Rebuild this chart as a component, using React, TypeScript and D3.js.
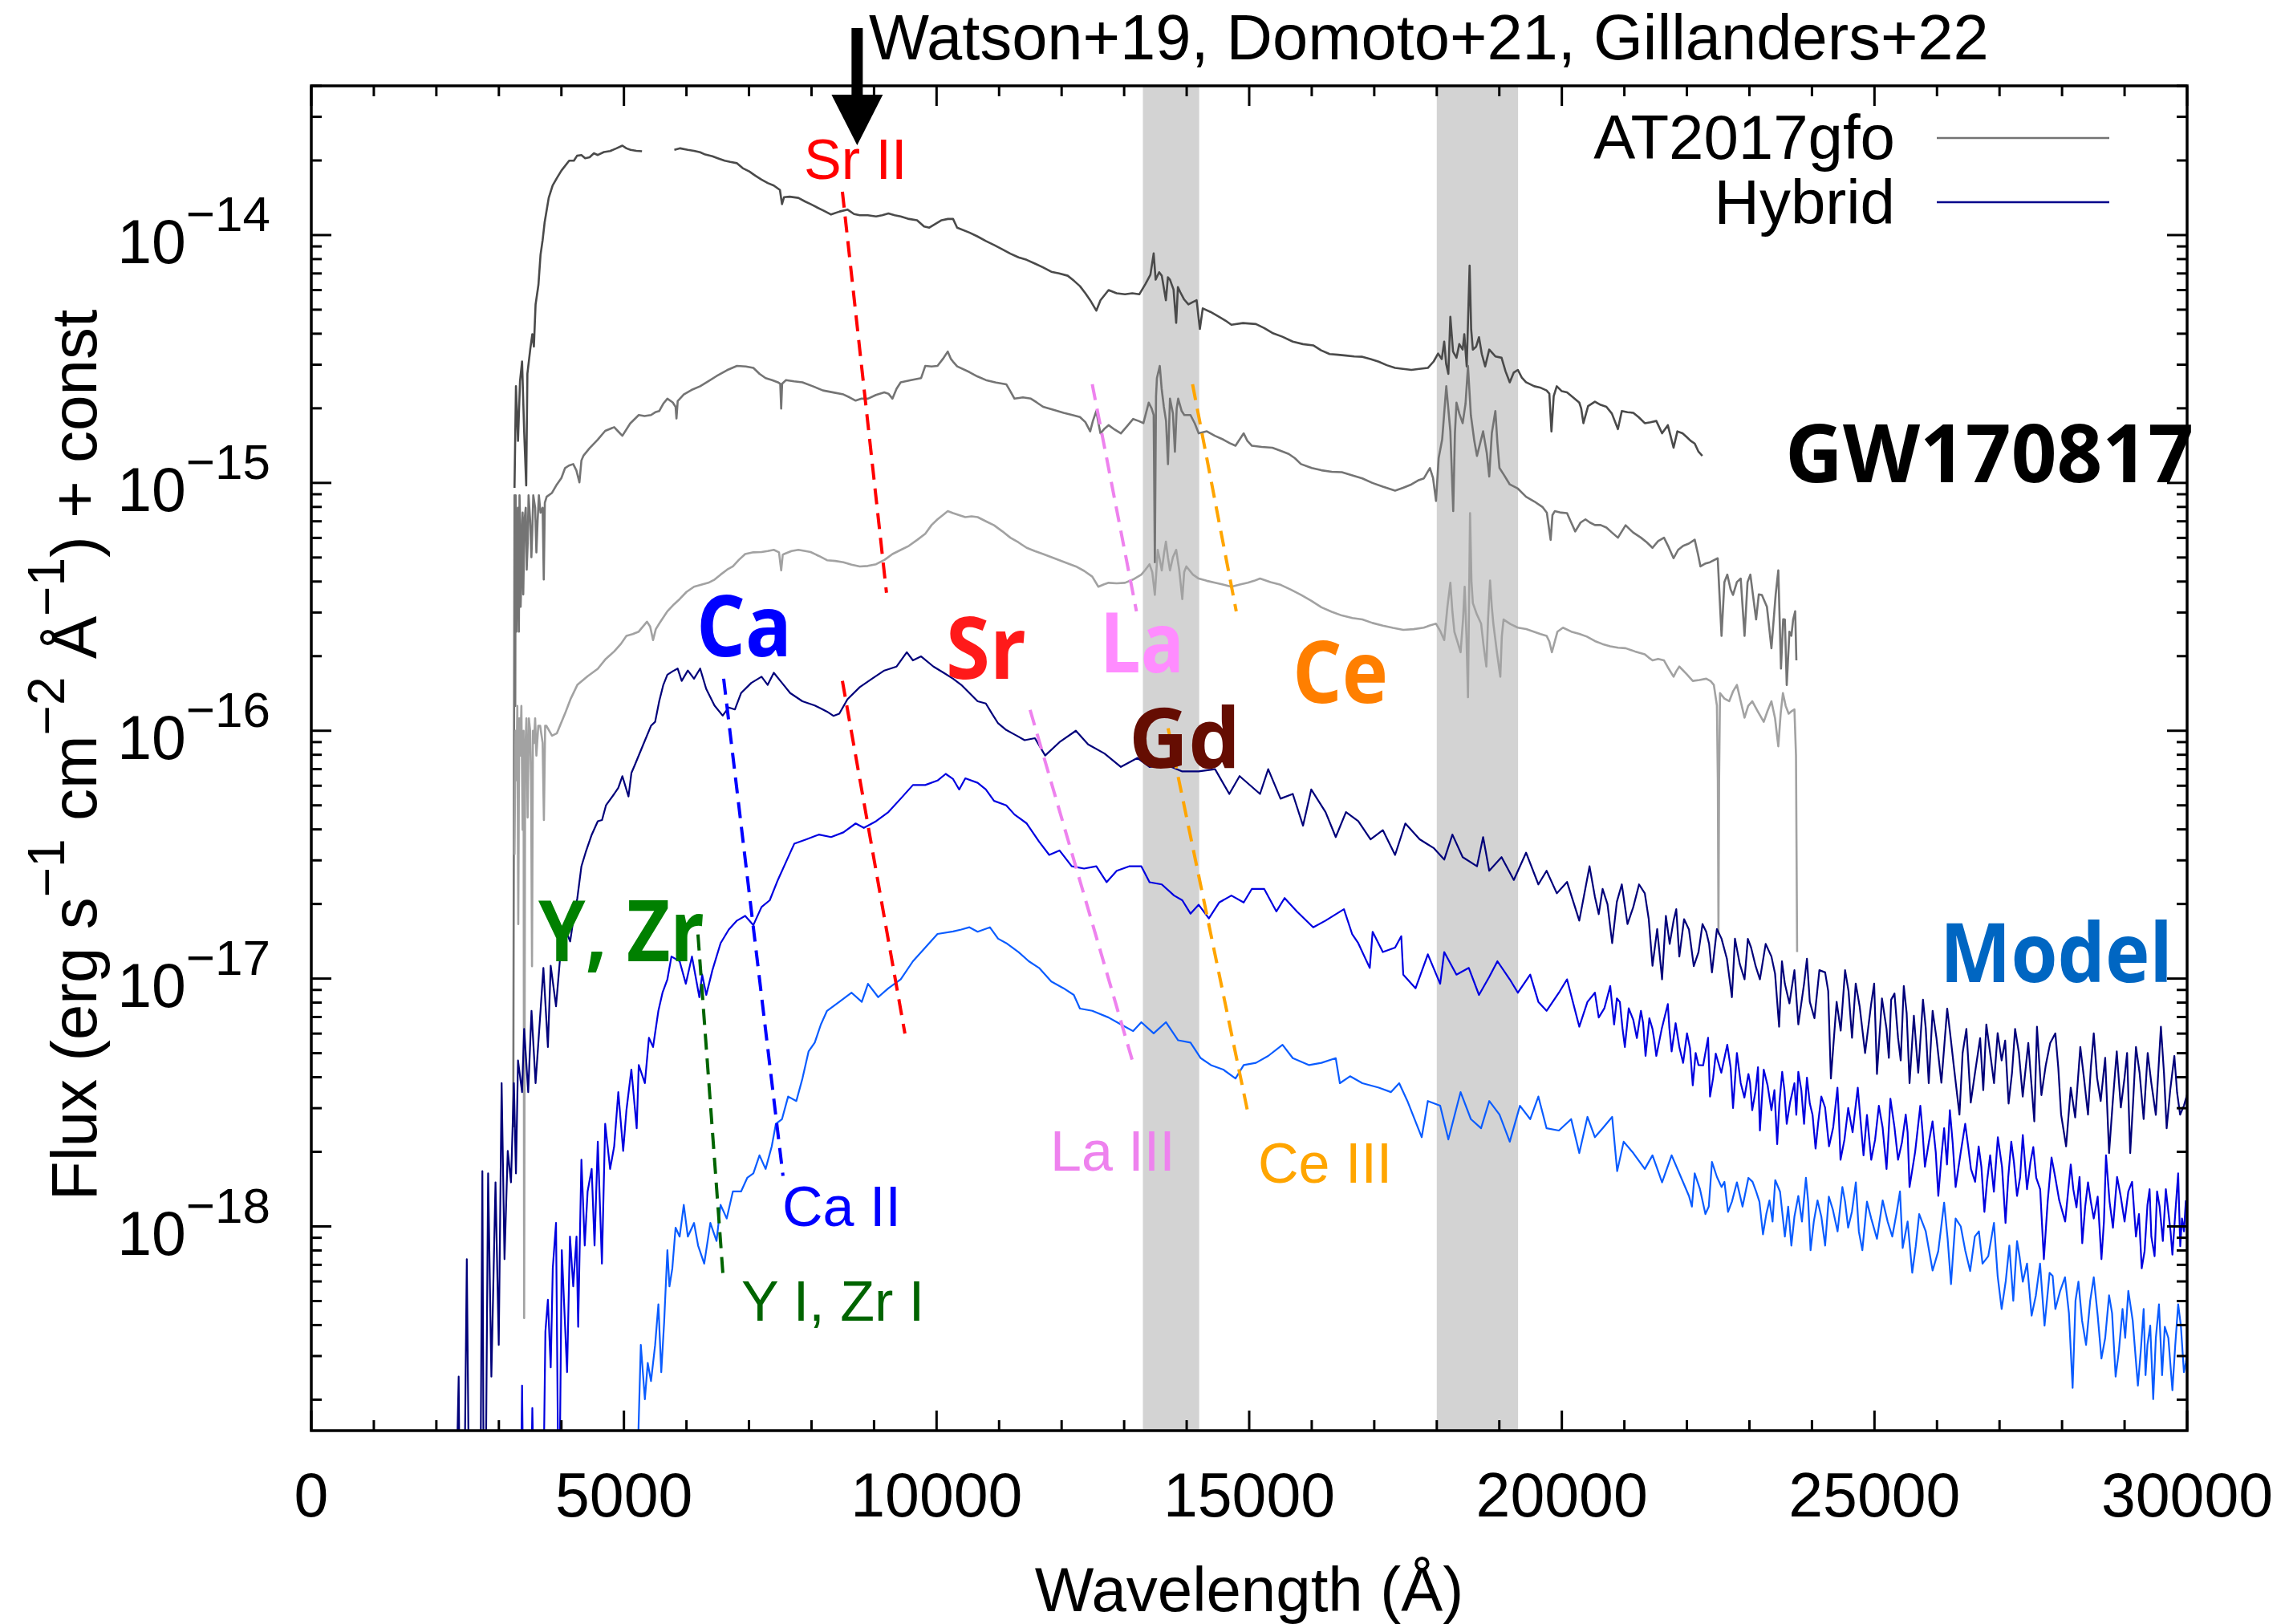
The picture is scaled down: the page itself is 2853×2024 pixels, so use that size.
import React from "react";
import * as d3 from "d3";

// ---------------- data (wavelength in Å, log10 flux) ----------------
const xDomain = [0, 30000];
const yDomain = [1.5e-19, 4e-14];
const xMajorTicks = [0, 5000, 10000, 15000, 20000, 25000, 30000];
const xMinorStep = 1000;
const yDecades = [-14, -15, -16, -17, -18];
const telluricBands = [[13300, 14200], [18000, 19300]];
const arrowWavelength = 8730;

type P = [number, number | null];

const obsEpoch1: P[] = [
[3250,-15.02],[3273,-14.61],[3306,-14.83],[3338,-14.59],[3371,-14.51],[3404,-14.79],[3437,-15.01],[3456,-14.56],[3502,-14.46],[3535,-14.40],[3560,-14.45],[3587,-14.28],[3633,-14.20],[3666,-14.08],[3700,-14.02],[3731,-13.95],[3797,-13.85],[3860,-13.80],[3928,-13.77],[4000,-13.74],[4124,-13.70],[4200,-13.70],[4250,-13.68],[4320,-13.677],[4380,-13.69],[4451,-13.686],[4520,-13.67],[4582,-13.677],[4680,-13.665],[4779,-13.661],[4880,-13.65],[4975,-13.639],[5040,-13.65],[5106,-13.656],[5200,-13.66],[5289,-13.662],
[5550,null],
[5806,-13.656],[5900,-13.65],[6022,-13.656],[6120,-13.66],[6219,-13.666],[6300,-13.675],[6415,-13.682],[6500,-13.69],[6611,-13.70],[6700,-13.705],[6808,-13.71],[6900,-13.73],[7004,-13.743],[7100,-13.76],[7201,-13.776],[7300,-13.79],[7397,-13.80],[7495,-13.818],[7528,-13.875],[7561,-13.847],[7650,-13.845],[7790,-13.85],[7900,-13.865],[7986,-13.875],[8100,-13.89],[8183,-13.90],[8313,-13.917],[8450,-13.905],[8575,-13.897],[8680,-13.915],[8772,-13.92],[8900,-13.92],[9033,-13.925],[9130,-13.92],[9230,-13.913],[9330,-13.92],[9426,-13.925],[9560,-13.935],[9688,-13.94],[9800,-13.965],[9884,-13.97],[9980,-13.955],[10081,-13.94],[10180,-13.935],[10264,-13.935],[10329,-13.97],[10526,-13.99],[10650,-14.005],[10788,-14.024],[10920,-14.04],[11049,-14.057],[11180,-14.075],[11311,-14.09],[11440,-14.10],[11573,-14.115],[11700,-14.13],[11835,-14.148],[11960,-14.155],[12097,-14.164],[12200,-14.185],[12293,-14.206],[12380,-14.235],[12457,-14.263],[12555,-14.305],[12621,-14.263],[12751,-14.222],[12880,-14.235],[13013,-14.239],[13130,-14.235],[13242,-14.239],[13341,-14.197],[13420,-14.16],[13472,-14.074],[13504,-14.18],[13560,-14.15],[13602,-14.164],[13668,-14.263],[13700,-14.17],[13733,-14.18],[13790,-14.22],[13832,-14.354],[13860,-14.21],[13897,-14.23],[13960,-14.26],[14028,-14.28],[14100,-14.27],[14159,-14.263],[14211,-14.379],[14257,-14.296],[14380,-14.31],[14519,-14.33],[14620,-14.345],[14715,-14.362],[14900,-14.355],[15108,-14.359],[15240,-14.375],[15370,-14.395],[15530,-14.41],[15697,-14.43],[15860,-14.44],[16024,-14.445],[16150,-14.465],[16286,-14.48],[16420,-14.483],[16548,-14.486],[16680,-14.49],[16810,-14.491],[16940,-14.50],[17071,-14.511],[17200,-14.525],[17333,-14.536],[17460,-14.54],[17595,-14.544],[17720,-14.54],[17857,-14.536],[17950,-14.51],[18021,-14.478],[18080,-14.50],[18119,-14.43],[18150,-14.52],[18185,-14.56],[18217,-14.33],[18260,-14.47],[18315,-14.495],[18360,-14.44],[18414,-14.462],[18440,-14.40],[18479,-14.53],[18525,-14.123],[18550,-14.38],[18577,-14.462],[18630,-14.45],[18675,-14.412],[18720,-14.48],[18774,-14.53],[18839,-14.462],[18940,-14.49],[19036,-14.495],[19100,-14.55],[19167,-14.594],[19230,-14.555],[19297,-14.544],[19360,-14.575],[19428,-14.594],[19559,-14.61],[19650,-14.615],[19756,-14.627],[19800,-14.64],[19834,-14.792],[19870,-14.65],[19919,-14.61],[20000,-14.63],[20083,-14.635],[20180,-14.655],[20279,-14.676],[20310,-14.70],[20345,-14.759],[20420,-14.69],[20529,-14.672],[20620,-14.685],[20713,-14.693],[20800,-14.72],[20897,-14.783],[20959,-14.71],[21050,-14.715],[21143,-14.717],[21230,-14.735],[21327,-14.759],[21420,-14.755],[21511,-14.75],[21603,-14.80],[21695,-14.767],[21787,-14.858],[21848,-14.792],[21930,-14.80],[22002,-14.816],[22060,-14.83],[22125,-14.841],[22186,-14.874],[22247,-14.891]
];

const obsEpoch2: P[] = [
[3230,-17.6],[3250,-15.05],[3255,-15.3],[3262,-15.9],[3268,-15.05],[3275,-15.2],[3282,-15.6],[3290,-15.45],[3298,-15.25],[3305,-15.1],[3312,-15.35],[3320,-15.6],[3330,-15.05],[3340,-15.15],[3348,-15.5],[3360,-15.38],[3370,-15.2],[3380,-15.12],[3390,-15.45],[3400,-15.3],[3410,-15.15],[3430,-15.1],[3445,-15.35],[3460,-15.25],[3475,-15.05],[3500,-15.15],[3520,-15.3],[3535,-15.19],[3550,-15.05],[3580,-15.1],[3600,-15.28],[3620,-15.15],[3640,-15.05],[3666,-15.12],[3700,-15.1],[3718,-15.39],[3735,-15.08],[3764,-15.056],[3850,-15.04],[3928,-15.006],[4000,-14.98],[4059,-14.94],[4120,-14.93],[4189,-14.924],[4240,-14.95],[4288,-14.998],[4320,-14.91],[4353,-14.89],[4450,-14.86],[4582,-14.825],[4700,-14.79],[4844,-14.775],[4900,-14.79],[4975,-14.81],[5100,-14.76],[5237,-14.726],[5330,-14.73],[5433,-14.726],[5500,-14.715],[5564,-14.71],[5630,-14.68],[5695,-14.66],[5780,-14.675],[5826,-14.693],[5840,-14.74],[5860,-14.67],[5957,-14.643],[6080,-14.625],[6219,-14.61],[6350,-14.59],[6481,-14.569],[6650,-14.545],[6808,-14.528],[6950,-14.53],[7070,-14.536],[7170,-14.56],[7266,-14.577],[7370,-14.585],[7462,-14.594],[7500,-14.6],[7515,-14.70],[7530,-14.6],[7593,-14.585],[7720,-14.59],[7855,-14.594],[8020,-14.61],[8183,-14.627],[8350,-14.635],[8510,-14.643],[8610,-14.655],[8706,-14.668],[8800,-14.66],[8903,-14.66],[9030,-14.645],[9164,-14.635],[9230,-14.64],[9295,-14.66],[9360,-14.62],[9426,-14.594],[9590,-14.585],[9753,-14.577],[9819,-14.528],[9920,-14.53],[10015,-14.528],[10100,-14.5],[10179,-14.47],[10230,-14.5],[10264,-14.511],[10330,-14.53],[10526,-14.553],[10650,-14.57],[10788,-14.585],[10950,-14.595],[11115,-14.602],[11180,-14.63],[11246,-14.66],[11380,-14.655],[11508,-14.66],[11600,-14.675],[11704,-14.693],[11870,-14.705],[12031,-14.717],[12160,-14.725],[12293,-14.734],[12380,-14.755],[12457,-14.792],[12500,-14.75],[12555,-14.71],[12590,-14.76],[12621,-14.80],[12690,-14.78],[12751,-14.767],[12850,-14.785],[12948,-14.80],[13050,-14.77],[13144,-14.742],[13230,-14.75],[13308,-14.759],[13393,-14.676],[13440,-14.70],[13472,-14.726],[13491,-15.32],[13510,-14.65],[13524,-14.577],[13570,-14.528],[13600,-14.62],[13635,-14.693],[13670,-14.75],[13701,-14.924],[13733,-14.66],[13780,-14.72],[13812,-14.874],[13840,-14.70],[13864,-14.66],[13920,-14.71],[13962,-14.726],[14061,-14.726],[14130,-14.76],[14192,-14.80],[14323,-14.792],[14450,-14.81],[14584,-14.825],[14690,-14.84],[14781,-14.85],[14912,-14.80],[14970,-14.83],[15043,-14.85],[15200,-14.855],[15370,-14.858],[15500,-14.87],[15632,-14.883],[15730,-14.90],[15828,-14.924],[16000,-14.94],[16155,-14.949],[16320,-14.955],[16482,-14.957],[16650,-14.97],[16810,-14.982],[16970,-15.0],[17137,-15.015],[17333,-15.031],[17460,-15.02],[17595,-15.006],[17700,-14.99],[17792,-14.982],[17890,-14.94],[17940,-14.98],[17988,-15.073],[18030,-14.9],[18086,-14.825],[18152,-14.61],[18217,-14.792],[18263,-15.114],[18290,-14.8],[18315,-14.676],[18360,-14.72],[18414,-14.759],[18460,-14.68],[18499,-14.528],[18545,-14.726],[18600,-14.83],[18643,-14.891],[18741,-14.792],[18800,-14.88],[18839,-14.974],[18880,-14.80],[18937,-14.71],[18970,-14.84],[19003,-14.94],[19080,-14.97],[19167,-15.006],[19297,-15.023],[19428,-15.056],[19560,-15.075],[19690,-15.097],[19760,-15.12],[19821,-15.23],[19850,-15.13],[19887,-15.114],[19990,-15.12],[20083,-15.122],[20150,-15.16],[20214,-15.196],[20300,-15.16],[20378,-15.147],[20450,-15.16],[20529,-15.17],[20620,-15.17],[20713,-15.18],[20800,-15.2],[20897,-15.221],[21020,-15.171],[21140,-15.2],[21266,-15.221],[21360,-15.24],[21450,-15.262],[21540,-15.235],[21634,-15.221],[21710,-15.26],[21787,-15.304],[21860,-15.27],[21941,-15.254],[22030,-15.245],[22125,-15.229],[22180,-15.29],[22217,-15.337],[22300,-15.325],[22370,-15.32],[22493,-15.304],[22554,-15.617],[22600,-15.40],[22646,-15.37],[22700,-15.43],[22738,-15.452],[22800,-15.40],[22861,-15.386],[22922,-15.617],[22970,-15.40],[23015,-15.37],[23107,-15.551],[23150,-15.45],[23199,-15.452],[23280,-15.5],[23352,-15.667],[23420,-15.45],[23462,-15.353],[23505,-15.749],[23540,-15.55],[23567,-15.551],[23597,-15.815],[23640,-15.6],[23671,-15.617],[23700,-15.55],[23732,-15.518],[23751,-15.716]
];

const obsEpoch3: P[] = [
[3250,-16.5],[3265,-16.0],[3280,-16.2],[3295,-15.9],[3310,-16.78],[3325,-15.95],[3340,-16.1],[3360,-15.9],[3380,-16.4],[3395,-16.0],[3404,-18.37],[3420,-16.1],[3440,-15.95],[3460,-16.35],[3480,-15.95],[3500,-16.0],[3515,-16.2],[3530,-16.95],[3545,-16.0],[3560,-16.05],[3580,-15.95],[3600,-16.1],[3630,-15.98],[3660,-15.98],[3700,-16.05],[3720,-16.36],[3740,-15.98],[3760,-15.98],[3850,-16.02],[3928,-16.01],[4059,-15.93],[4150,-15.87],[4255,-15.815],[4420,-15.78],[4582,-15.75],[4710,-15.71],[4844,-15.68],[4950,-15.65],[5040,-15.617],[5140,-15.61],[5237,-15.60],[5368,-15.56],[5420,-15.58],[5466,-15.634],[5510,-15.59],[5564,-15.568],[5695,-15.518],[5800,-15.49],[5891,-15.469],[6000,-15.44],[6121,-15.419],[6350,-15.403],[6450,-15.39],[6546,-15.37],[6650,-15.35],[6742,-15.337],[6840,-15.31],[6939,-15.287],[7070,-15.28],[7201,-15.279],[7300,-15.275],[7397,-15.27],[7480,-15.28],[7515,-15.353],[7540,-15.29],[7561,-15.287],[7680,-15.275],[7790,-15.27],[7900,-15.275],[7986,-15.279],[8120,-15.295],[8248,-15.312],[8380,-15.315],[8510,-15.32],[8640,-15.33],[8772,-15.337],[8900,-15.335],[9033,-15.328],[9170,-15.31],[9295,-15.287],[9430,-15.27],[9557,-15.254],[9690,-15.23],[9819,-15.205],[9920,-15.17],[10015,-15.147],[10100,-15.13],[10179,-15.114],[10264,-15.122],[10360,-15.13],[10460,-15.138],[10560,-15.135],[10657,-15.138],[10790,-15.155],[10919,-15.171],[11050,-15.195],[11180,-15.221],[11310,-15.24],[11442,-15.262],[11570,-15.275],[11704,-15.287],[11840,-15.30],[11966,-15.312],[12100,-15.325],[12228,-15.337],[12360,-15.355],[12490,-15.378],[12588,-15.419],[12670,-15.41],[12751,-15.403],[12880,-15.405],[13013,-15.403],[13140,-15.39],[13275,-15.37],[13340,-15.35],[13406,-15.328],[13450,-15.36],[13491,-15.452],[13537,-15.27],[13570,-15.31],[13602,-15.353],[13640,-15.28],[13668,-15.237],[13700,-15.30],[13733,-15.353],[13780,-15.30],[13832,-15.27],[13880,-15.35],[13930,-15.469],[13960,-15.36],[13995,-15.337],[14100,-15.37],[14192,-15.386],[14320,-15.395],[14454,-15.403],[14580,-15.41],[14715,-15.419],[14850,-15.41],[14977,-15.403],[15080,-15.395],[15173,-15.386],[15340,-15.40],[15501,-15.411],[15660,-15.43],[15828,-15.452],[15990,-15.475],[16155,-15.502],[16320,-15.52],[16482,-15.535],[16650,-15.545],[16810,-15.551],[16970,-15.565],[17137,-15.576],[17300,-15.585],[17464,-15.593],[17630,-15.59],[17792,-15.584],[17890,-15.575],[17988,-15.568],[18060,-15.60],[18119,-15.634],[18170,-15.50],[18217,-15.403],[18250,-15.52],[18282,-15.601],[18330,-15.64],[18381,-15.683],[18420,-15.55],[18446,-15.419],[18475,-15.62],[18499,-15.865],[18532,-15.122],[18555,-15.40],[18577,-15.485],[18640,-15.53],[18709,-15.568],[18750,-15.66],[18793,-15.741],[18820,-15.55],[18852,-15.394],[18880,-15.50],[18905,-15.568],[18960,-15.68],[19016,-15.782],[19040,-15.62],[19068,-15.551],[19180,-15.57],[19297,-15.584],[19430,-15.59],[19559,-15.601],[19660,-15.61],[19756,-15.617],[19800,-15.64],[19841,-15.683],[19930,-15.60],[20018,-15.584],[20150,-15.60],[20279,-15.609],[20400,-15.62],[20529,-15.638],[20650,-15.65],[20774,-15.659],[20900,-15.665],[21020,-15.667],[21170,-15.68],[21327,-15.692],[21390,-15.705],[21450,-15.716],[21540,-15.71],[21634,-15.716],[21710,-15.75],[21787,-15.782],[21830,-15.76],[21879,-15.741],[21990,-15.77],[22094,-15.799],[22200,-15.795],[22309,-15.79],[22380,-15.80],[22431,-15.815],[22480,-15.898],[22495,-16.2],[22505,-16.82],[22515,-16.2],[22530,-15.848],[22600,-15.87],[22677,-15.881],[22740,-15.84],[22800,-15.815],[22860,-15.88],[22922,-15.947],[22980,-15.90],[23045,-15.881],[23130,-15.92],[23229,-15.964],[23290,-15.92],[23352,-15.881],[23410,-15.95],[23462,-16.063],[23500,-15.93],[23536,-15.848],[23580,-15.90],[23628,-15.931],[23680,-15.92],[23720,-15.914],[23745,-16.1],[23763,-16.893]
];

const hybridEpoch1: P[] = [
[2300,-19.3],[2357,-18.606],[2380,-19.3],[2440,-19.3],[2487,-18.132],[2530,-19.3],[2618,-19.3],[2700,-19.3],[2736,-17.777],[2760,-19.3],[2782,-19.3],[2828,-17.786],[2880,-18.606],[2946,-17.822],[2998,-18.478],[3044,-17.422],[3090,-18.132],[3142,-17.695],[3194,-17.822],[3240,-17.422],[3273,-17.786],[3306,-17.33],[3371,-17.458],[3404,-17.203],[3469,-17.458],[3522,-17.13],[3587,-17.422],[3666,-17.13],[3712,-16.957],[3784,-17.276],[3829,-16.948],[3914,-17.112],[3993,-16.875],[4091,-16.82],[4140,-16.85],[4189,-16.766],[4255,-16.675],[4320,-16.547],[4386,-16.492],[4484,-16.42],[4582,-16.365],[4650,-16.36],[4713,-16.301],[4844,-16.255],[4910,-16.23],[4975,-16.183],[5073,-16.265],[5120,-16.17],[5171,-16.14],[5302,-16.06],[5433,-15.98],[5499,-15.964],[5564,-15.881],[5630,-15.815],[5695,-15.774],[5780,-15.76],[5859,-15.749],[5924,-15.799],[6022,-15.757],[6121,-15.79],[6219,-15.749],[6317,-15.832],[6448,-15.898],[6579,-15.939],[6677,-15.906],[6775,-15.914],[6873,-15.848],[7037,-15.807],[7201,-15.782],[7299,-15.815],[7397,-15.766],[7528,-15.807],[7659,-15.848],[7855,-15.881],[8052,-15.898],[8150,-15.91],[8248,-15.923],[8350,-15.94],[8444,-15.931],[8575,-15.873],[8772,-15.824],[8968,-15.79],[9164,-15.757],[9361,-15.741],[9524,-15.683],[9622,-15.716],[9753,-15.70],[9950,-15.741],[10114,-15.766],[10264,-15.79],[10395,-15.815],[10526,-15.848],[10657,-15.881],[10788,-15.89],[10886,-15.931],[10984,-15.97],[11115,-15.997],[11246,-16.015],[11409,-16.038],[11573,-16.03],[11737,-16.10],[11966,-16.046],[12228,-16.0],[12424,-16.055],[12686,-16.092],[12948,-16.146],[13210,-16.11],[13406,-16.146],[13668,-16.137],[13930,-16.164],[14192,-16.164],[14454,-16.155],[14682,-16.255],[14846,-16.183],[15173,-16.255],[15304,-16.155],[15501,-16.274],[15697,-16.255],[15861,-16.383],[15992,-16.237],[16221,-16.328],[16384,-16.429],[16548,-16.328],[16744,-16.365],[16941,-16.438],[17137,-16.401],[17333,-16.501],[17497,-16.374],[17726,-16.438],[17955,-16.474],[18119,-16.52],[18250,-16.419],[18414,-16.51],[18643,-16.547],[18741,-16.429],[18839,-16.565],[19036,-16.51],[19232,-16.602],[19428,-16.492],[19625,-16.62],[19756,-16.565],[19920,-16.656],[20083,-16.61],[20279,-16.766],[20443,-16.547],[20529,-16.67],[20652,-16.638],[20805,-16.857],[20959,-16.62],[21143,-16.711],[21327,-16.656],[21450,-16.948],[21603,-17.003],[21664,-16.747],[21787,-16.766],[21879,-16.911],[22033,-16.802],[22186,-16.893],[22309,-16.811],[22401,-16.975],[22554,-16.839],[22720,-17.075],[22769,-16.839],[22922,-17.003],[23027,-16.875],[23168,-17.003],[23352,-16.911],[23475,-17.194],[23567,-17.021],[23720,-16.966],[23782,-17.185],[23874,-17.021],[23966,-17.094],[24119,-16.966],[24211,-16.975],[24303,-17.403],[24395,-17.094],[24530,-16.966],[24641,-17.239],[24763,-17.112],[24947,-17.103],[25040,-17.385],[25193,-17.203],[25267,-17.085],[25377,-17.239],[25469,-17.03],[25561,-17.422],[25776,-17.085],[25868,-17.422],[25991,-17.239],[26163,-17.121],[26267,-17.349],[26359,-17.549],[26470,-17.203],[26605,-17.385],[26789,-17.185],[26912,-17.422],[27034,-17.33],[27145,-17.504],[27249,-17.203],[27371,-17.476],[27556,-17.576],[27599,-17.194],[27740,-17.349],[27893,-17.221],[27985,-17.549],[28065,-17.677],[28139,-17.44],[28292,-17.276],[28415,-17.549],[28507,-17.221],[28618,-17.494],[28752,-17.704],[28875,-17.294],[28998,-17.403],[29090,-17.704],[29182,-17.276],[29305,-17.567],[29428,-17.422],[29581,-17.194],[29673,-17.604],[29796,-17.312],[29888,-17.549],[29949,-17.513],[30011,-17.458]
];
// finer noise read in the red tail of the first model spectrum
const hybridEpoch1Tail: P[] = [
[20590,-16.74],[20730,-16.70],[20880,-16.69],[21050,-16.78],[21235,-16.62],[21390,-16.76],[21525,-16.80],[21725,-16.86],[21830,-16.72],[21955,-16.76],[22110,-16.95],[22250,-16.78],[22355,-16.86],[22480,-16.80],[22640,-16.92],[22845,-16.94],[22975,-16.84],[23100,-16.95],[23260,-16.86],[23410,-16.98],[23520,-16.93],[23640,-17.10],[23920,-16.92],[24040,-17.16],[24260,-17.05],[24460,-17.21],[24585,-17.05],[24700,-17.02],[24850,-17.30],[24995,-17.02],[25120,-17.08],[25230,-17.32],[25320,-17.06],[25420,-17.33],[25515,-17.14],[25630,-17.15],[25700,-17.38],[25820,-17.20],[25930,-17.13],[26070,-17.42],[26120,-17.26],[26210,-17.22],[26410,-17.30],[26540,-17.50],[26690,-17.24],[26740,-17.45],[26850,-17.30],[26970,-17.22],[27090,-17.25],[27200,-17.38],[27310,-17.30],[27460,-17.26],[27670,-17.47],[27810,-17.26],[27940,-17.36],[28210,-17.56],[28350,-17.40],[28460,-17.36],[28560,-17.40],[28690,-17.32],[28810,-17.50],[28940,-17.52],[29040,-17.30],[29140,-17.48],[29240,-17.38],[29370,-17.30],[29500,-17.55],[29630,-17.38],[29730,-17.45],[29840,-17.46]
];

const hybridEpoch2: P[] = [
[3340,-19.3],[3371,-18.642],[3400,-19.3],[3500,-19.3],[3535,-18.733],[3580,-19.3],[3700,-19.3],[3744,-18.424],[3784,-18.296],[3829,-18.569],[3862,-18.169],[3914,-17.986],[3960,-19.3],[4006,-18.096],[4091,-18.588],[4137,-18.041],[4189,-18.242],[4242,-18.041],[4268,-18.405],[4320,-17.731],[4373,-18.077],[4419,-17.859],[4484,-17.768],[4530,-18.077],[4582,-17.658],[4648,-18.15],[4700,-17.586],[4779,-17.768],[4844,-17.677],[4910,-17.458],[4988,-17.695],[5040,-17.531],[5119,-17.367],[5204,-17.604],[5237,-17.349],[5335,-17.422],[5400,-17.239],[5466,-17.276],[5551,-17.13],[5617,-17.057],[5695,-17.003],[5760,-16.911],[5891,-16.93],[5990,-17.021],[6088,-16.911],[6206,-17.075],[6251,-16.984],[6317,-17.066],[6415,-16.966],[6546,-16.857],[6677,-16.802],[6808,-16.766],[6939,-16.747],[7070,-16.784],[7201,-16.711],[7332,-16.684],[7462,-16.602],[7593,-16.529],[7724,-16.456],[7921,-16.438],[8117,-16.419],[8313,-16.429],[8510,-16.41],[8706,-16.374],[8837,-16.392],[9033,-16.365],[9230,-16.328],[9426,-16.274],[9622,-16.219],[9819,-16.219],[10015,-16.201],[10146,-16.174],[10264,-16.195],[10362,-16.237],[10460,-16.192],[10657,-16.21],[10788,-16.237],[10919,-16.283],[11115,-16.301],[11246,-16.338],[11442,-16.374],[11639,-16.447],[11802,-16.501],[11966,-16.483],[12162,-16.547],[12359,-16.556],[12555,-16.547],[12719,-16.611],[12882,-16.565],[13079,-16.547],[13275,-16.547],[13406,-16.611],[13602,-16.62],[13799,-16.665],[13930,-16.684],[14061,-16.738],[14192,-16.702],[14355,-16.757],[14519,-16.693],[14715,-16.665],[14912,-16.693],[15043,-16.638],[15239,-16.638],[15435,-16.729],[15566,-16.675],[15763,-16.729],[16024,-16.793],[16221,-16.766],[16515,-16.72],[16646,-16.82],[16744,-16.857],[16928,-16.957],[16974,-16.811],[17137,-16.893],[17333,-16.875],[17432,-16.829],[17464,-16.984],[17661,-17.039],[17857,-16.902],[18054,-17.021],[18119,-16.893],[18315,-16.984],[18512,-16.957],[18675,-17.066],[18839,-16.993],[18970,-16.93],[19167,-17.003],[19297,-17.057],[19494,-16.984],[19625,-17.094],[19756,-17.13],[19953,-17.057],[20083,-17.003],[20279,-17.194],[20410,-17.094],[20529,-17.057],[20590,-17.157],[20774,-17.03],[20836,-17.185],[20928,-17.094],[21008,-17.276],[21143,-17.167],[21265,-17.13],[21339,-17.312],[21450,-17.203],[21511,-17.312],[21695,-17.103],[21756,-17.294],[21879,-17.276],[22002,-17.221],[22094,-17.431],[22186,-17.349],[22339,-17.239],[22370,-17.476],[22462,-17.303],[22646,-17.267],[22738,-17.522],[22861,-17.422],[22984,-17.385],[23045,-17.531],[23137,-17.358],[23168,-17.613],[23229,-17.367],[23352,-17.531],[23444,-17.668],[23524,-17.376],[23597,-17.586],[23720,-17.422],[23782,-17.376],[23874,-17.586],[23966,-17.504],[24058,-17.686],[24150,-17.476],[24273,-17.677],[24408,-17.44],[24457,-17.731],[24580,-17.522],[24733,-17.44],[24825,-17.713],[24948,-17.731],[25070,-17.513],[25193,-17.768],[25255,-17.485],[25377,-17.731],[25500,-17.549],[25561,-17.841],[25733,-17.513],[25807,-17.759],[25929,-17.576],[26021,-17.877],[26114,-17.604],[26206,-17.531],[26298,-17.841],[26451,-17.586],[26543,-17.768],[26666,-17.677],[26758,-17.941],[26850,-17.713],[26973,-17.64],[27096,-17.986],[27188,-17.658],[27280,-17.877],[27372,-17.631],[27495,-17.74],[27587,-17.804],[27709,-18.132],[27832,-17.722],[27955,-17.895],[28139,-17.75],[28231,-17.923],[28323,-18.068],[28415,-17.822],[28507,-17.968],[28630,-18.132],[28703,-17.713],[28814,-18.005],[28937,-17.877],[29060,-17.859],[29182,-18.041],[29274,-18.169],[29366,-17.913],[29428,-18.041],[29520,-17.859],[29612,-18.059],[29704,-17.95],[29765,-18.114],[29857,-17.786],[29918,-17.968],[29980,-17.895]
];
const hybridEpoch2Tail: P[] = [
[20680,-17.12],[20880,-17.08],[20970,-17.20],[21070,-17.12],[21200,-17.24],[21300,-17.18],[21400,-17.16],[21480,-17.25],[21600,-17.20],[21720,-17.20],[21820,-17.18],[21940,-17.34],[22050,-17.28],[22140,-17.30],[22260,-17.35],[22420,-17.40],[22550,-17.38],[22700,-17.36],[22800,-17.30],[22920,-17.48],[23010,-17.42],[23100,-17.45],[23290,-17.43],[23400,-17.45],[23480,-17.50],[23560,-17.45],[23650,-17.50],[23750,-17.55],[23830,-17.45],[23920,-17.40],[24010,-17.55],[24100,-17.58],[24210,-17.52],[24340,-17.60],[24430,-17.55],[24520,-17.65],[24650,-17.62],[24780,-17.58],[24880,-17.55],[25010,-17.65],[25130,-17.60],[25220,-17.65],[25320,-17.60],[25440,-17.66],[25530,-17.62],[25650,-17.70],[25770,-17.62],[25870,-17.66],[25980,-17.70],[26070,-17.72],[26160,-17.75],[26250,-17.66],[26380,-17.70],[26500,-17.68],[26610,-17.82],[26710,-17.76],[26800,-17.82],[26910,-17.86],[27040,-17.76],[27140,-17.80],[27230,-17.74],[27330,-17.80],[27440,-17.85],[27540,-17.68],[27650,-17.85],[27770,-17.90],[27890,-17.80],[28050,-17.98],[28180,-17.85],[28280,-17.80],[28370,-17.92],[28460,-17.90],[28570,-17.88],[28670,-17.98],[28760,-17.90],[28880,-17.80],[29000,-17.98],[29120,-17.82],[29230,-17.95],[29320,-18.10],[29400,-17.85],[29480,-18.12],[29560,-17.92],[29660,-17.85],[29735,-18.02],[29810,-17.95],[29890,-18.08],[29950,-18.02]
];

const hybridEpoch3: P[] = [
[5180,-19.3],[5270,-18.478],[5335,-18.697],[5381,-18.551],[5433,-18.624],[5499,-18.478],[5551,-18.314],[5597,-18.588],[5643,-18.387],[5695,-18.096],[5728,-18.242],[5774,-18.169],[5826,-18.005],[5891,-18.041],[5957,-17.913],[6022,-18.041],[6121,-17.986],[6186,-18.077],[6284,-18.15],[6382,-17.986],[6481,-18.059],[6546,-17.913],[6644,-17.968],[6742,-17.859],[6873,-17.859],[6972,-17.804],[7070,-17.786],[7168,-17.713],[7266,-17.768],[7364,-17.677],[7430,-17.586],[7528,-17.567],[7626,-17.476],[7757,-17.494],[7855,-17.403],[7953,-17.294],[8052,-17.258],[8150,-17.185],[8248,-17.13],[8444,-17.094],[8641,-17.057],[8804,-17.094],[8903,-17.021],[9066,-17.075],[9230,-17.039],[9426,-17.003],[9622,-16.93],[9819,-16.875],[10015,-16.82],[10264,-16.81],[10395,-16.802],[10526,-16.793],[10657,-16.811],[10853,-16.793],[10984,-16.839],[11115,-16.857],[11311,-16.893],[11475,-16.93],[11639,-16.957],[11835,-17.012],[12031,-17.039],[12195,-17.066],[12293,-17.121],[12490,-17.13],[12751,-17.157],[12948,-17.185],[13144,-17.212],[13275,-17.176],[13472,-17.221],[13668,-17.176],[13864,-17.249],[14061,-17.258],[14225,-17.321],[14388,-17.349],[14584,-17.367],[14781,-17.403],[14912,-17.349],[15108,-17.34],[15304,-17.312],[15533,-17.267],[15697,-17.321],[15959,-17.349],[16155,-17.34],[16384,-17.321],[16450,-17.422],[16613,-17.394],[16810,-17.422],[17071,-17.44],[17268,-17.458],[17399,-17.422],[17530,-17.494],[17759,-17.64],[17857,-17.494],[18054,-17.513],[18185,-17.649],[18381,-17.458],[18545,-17.567],[18708,-17.604],[18839,-17.494],[19003,-17.549],[19167,-17.658],[19330,-17.513],[19494,-17.567],[19625,-17.476],[19756,-17.604],[19953,-17.613],[20149,-17.567],[20279,-17.704],[20410,-17.558],[20529,-17.64],[20652,-17.604],[20805,-17.558],[20885,-17.777],[20989,-17.658],[21143,-17.704],[21327,-17.768],[21450,-17.713],[21603,-17.822],[21756,-17.713],[21910,-17.804],[22033,-17.877],[22125,-17.786],[22296,-17.95],[22401,-17.74],[22554,-17.841],[22658,-17.941],[22800,-17.822],[22984,-17.804],[23107,-17.859],[23217,-18.032],[23321,-17.895],[23413,-17.813],[23567,-18.041],[23671,-18.077],[23782,-17.877],[23904,-17.804],[23978,-18.096],[24089,-17.895],[24211,-18.077],[24334,-17.932],[24487,-17.841],[24579,-18.005],[24702,-17.822],[24806,-18.096],[24948,-17.968],[25131,-17.895],[25285,-18.041],[25408,-17.859],[25451,-18.087],[25604,-18.187],[25715,-17.95],[25930,-18.178],[26114,-17.904],[26224,-18.233],[26298,-17.968],[26451,-18.096],[26605,-18.041],[26728,-18.15],[26911,-17.986],[27034,-18.333],[27157,-18.077],[27280,-18.059],[27372,-18.223],[27513,-18.36],[27648,-18.15],[27801,-18.187],[27893,-18.333],[28047,-18.205],[28169,-18.651],[28262,-18.223],[28384,-18.478],[28507,-18.205],[28630,-18.533],[28752,-18.278],[28857,-18.606],[28967,-18.333],[29060,-18.26],[29213,-18.642],[29305,-18.333],[29366,-18.478],[29458,-18.697],[29550,-18.314],[29643,-18.405],[29765,-18.661],[29857,-18.314],[29949,-18.588],[30011,-18.478]
];
const hybridEpoch3Tail: P[] = [
[22080,-17.92],[22210,-17.85],[22350,-17.92],[22480,-17.80],[22600,-17.82],[22720,-17.90],[22890,-17.92],[23050,-17.82],[23160,-17.90],[23270,-17.95],[23370,-17.98],[23490,-17.86],[23620,-17.92],[23720,-17.96],[23840,-17.98],[23940,-17.90],[24030,-17.98],[24150,-17.96],[24270,-17.88],[24410,-18.02],[24530,-17.90],[24640,-17.94],[24750,-18.02],[24880,-17.90],[25040,-18.05],[25210,-17.98],[25350,-17.95],[25530,-17.98],[25660,-18.08],[25820,-18.02],[26020,-18.10],[26170,-18.05],[26260,-18.10],[26380,-18.00],[26530,-18.18],[26670,-18.02],[26820,-18.12],[26970,-18.20],[27100,-18.22],[27220,-18.30],[27320,-18.12],[27440,-18.15],[27580,-18.28],[27720,-18.40],[27850,-18.20],[27970,-18.26],[28110,-18.35],[28215,-18.30],[28320,-18.38],[28450,-18.30],[28570,-18.36],[28690,-18.45],[28800,-18.35],[28910,-18.50],[29010,-18.45],[29130,-18.38],[29260,-18.50],[29335,-18.60],[29410,-18.40],[29500,-18.45],[29600,-18.60],[29700,-18.45],[29810,-18.48],[29900,-18.40],[29980,-18.55]
];

// line identification guides: [w1, log10F1, w2, log10F2]
const lineIdSegments = [
  [8494, -13.825, 9199, -15.443],
  [8494, -15.799, 9494, -17.222],
  [6595, -15.790, 7544, -17.796],
  [6184, -16.822, 6582, -18.188],
  [12490, -14.602, 13197, -15.518],
  [11496, -15.916, 13164, -17.359],
  [14094, -14.602, 14793, -15.518],
  [13703, -15.990, 14986, -17.550],
];

// ---------------- styles ----------------
const lineIdColors = ["#ff0000", "#ff0000", "#0000ff", "#006400", "#ee82ee", "#ee82ee", "#ffa500", "#ffa500"];
const obsColors = ["#4a4a4a", "#747474", "#a2a2a2"];
const hybridColors = ["#00007a", "#0000e0", "#0a5cff"];

const W = 2853, H = 2024;
const PL = 388, PR = 2726, PT = 107, PB = 1783;
const FONT = "'Liberation Sans', Arial, Helvetica, sans-serif";
const BOLD = "'Open Sans', 'Noto Sans', sans-serif";

const merge = (a: P[], b: P[]) => [...a, ...b].sort((p, q) => p[0] - q[0]);

export default function App() {
  const x = d3.scaleLinear().domain(xDomain).range([PL, PR]);
  const y = d3.scaleLog().domain(yDomain).range([PB, PT]);
  const line = d3.line<P>()
    .defined(d => d[1] !== null)
    .x(d => x(d[0]))
    .y(d => y(Math.pow(10, d[1] as number)));

  const minorX: number[] = [];
  for (let v = xDomain[0]; v <= xDomain[1]; v += xMinorStep) if (!xMajorTicks.includes(v)) minorX.push(v);
  const yTicks: { v: number; major: boolean }[] = [];
  for (let e = -19; e <= -14; e++) for (let k = 1; k <= 9; k++) {
    const v = k * Math.pow(10, e);
    if (v >= yDomain[0] && v <= yDomain[1]) yTicks.push({ v, major: k === 1 });
  }
  const MAJ = 25, MIN = 13;
  const ax = { stroke: "#000", strokeWidth: 3 };

  const spectra = [
    { d: obsEpoch1, c: obsColors[0], w: 2.6 },
    { d: obsEpoch2, c: obsColors[1], w: 2.6 },
    { d: obsEpoch3, c: obsColors[2], w: 2.6 },
    { d: merge(hybridEpoch1, hybridEpoch1Tail), c: hybridColors[0], w: 2.2 },
    { d: merge(hybridEpoch2, hybridEpoch2Tail), c: hybridColors[1], w: 2.2 },
    { d: merge(hybridEpoch3, hybridEpoch3Tail), c: hybridColors[2], w: 2.2 },
  ];

  const ax0 = x(arrowWavelength);

  return (
    <svg width={W} height={H} style={{ position: "absolute", left: 0, top: 0, display: "block", background: "#fff" }}
      fontFamily={FONT}>
      <defs>
        <clipPath id="plot"><rect x={PL} y={PT} width={PR - PL} height={PB - PT} /></clipPath>
      </defs>
      <rect x={0} y={0} width={W} height={H} fill="#fff" />
      {telluricBands.map((b, i) => (
        <rect key={i} x={x(b[0])} y={PT} width={x(b[1]) - x(b[0])} height={PB - PT} fill="#d3d3d3" />
      ))}
      <g clipPath="url(#plot)">
        {spectra.map((s, i) => (
          <path key={i} d={line(s.d) || ""} fill="none" stroke={s.c} strokeWidth={s.w} strokeLinejoin="round" />
        ))}
        {lineIdSegments.map((s, i) => (
          <line key={i} x1={x(s[0])} y1={y(Math.pow(10, s[1]))} x2={x(s[2])} y2={y(Math.pow(10, s[3]))}
            stroke={lineIdColors[i]} strokeWidth={4} strokeDasharray="20,11" />
        ))}
      </g>

      {/* frame and ticks */}
      <rect x={PL} y={PT} width={PR - PL} height={PB - PT} fill="none" stroke="#000" strokeWidth={3.5} />
      {xMajorTicks.map(v => (
        <g key={"xm" + v}>
          <line x1={x(v)} x2={x(v)} y1={PB} y2={PB - MAJ} {...ax} />
          <line x1={x(v)} x2={x(v)} y1={PT} y2={PT + MAJ} {...ax} />
          <text x={x(v)} y={1890} textAnchor="middle" fontSize={77}>{v}</text>
        </g>
      ))}
      {minorX.map(v => (
        <g key={"xn" + v}>
          <line x1={x(v)} x2={x(v)} y1={PB} y2={PB - MIN} {...ax} />
          <line x1={x(v)} x2={x(v)} y1={PT} y2={PT + MIN} {...ax} />
        </g>
      ))}
      {yTicks.map((t, i) => (
        <g key={"y" + i}>
          <line x1={PL} x2={PL + (t.major ? MAJ : MIN)} y1={y(t.v)} y2={y(t.v)} {...ax} />
          <line x1={PR} x2={PR - (t.major ? MAJ : MIN)} y1={y(t.v)} y2={y(t.v)} {...ax} />
        </g>
      ))}
      {yDecades.map(e => (
        <text key={"yl" + e} x={337} y={y(Math.pow(10, e)) + 35} textAnchor="end" fontSize={77}>
          10<tspan dy={-40} fontSize={62}>{"\u2212" + Math.abs(e)}</tspan>
        </text>
      ))}

      {/* axis titles */}
      <text x={(PL + PR) / 2} y={2008} textAnchor="middle" fontSize={78}>Wavelength (Å)</text>
      <text transform={`translate(120, 941) rotate(-90)`} textAnchor="middle" fontSize={80}>
        Flux (erg s<tspan dy={-40} fontSize={64}>−1</tspan><tspan dy={40}> cm</tspan>
        <tspan dy={-40} fontSize={64}>−2</tspan><tspan dy={40}> Å</tspan>
        <tspan dy={-40} fontSize={64}>−1</tspan><tspan dy={40}>) + const</tspan>
      </text>

      {/* top reference & arrow */}
      <text x={1083} y={74} fontSize={79.5}>Watson+19, Domoto+21, Gillanders+22</text>
      <rect x={ax0 - 7} y={35} width={14} height={85} fill="#000" />
      <polygon points={`${ax0 - 32},118 ${ax0 + 32},118 ${ax0},181`} fill="#000" />

      {/* legend */}
      <text x={2362} y={198} textAnchor="end" fontSize={78}>AT2017gfo</text>
      <line x1={2414} x2={2629} y1={172} y2={172} stroke="#737373" strokeWidth={2.5} />
      <text x={2362} y={279} textAnchor="end" fontSize={78}>Hybrid</text>
      <line x1={2414} x2={2629} y1={252} y2={252} stroke="#00008b" strokeWidth={2.5} />

      {/* small line labels */}
      <text x={1002} y={223} fontSize={70} fill="#ff0000">Sr II</text>
      <text x={975} y={1528} fontSize={70} fill="#0000ff">Ca II</text>
      <text x={924} y={1646} fontSize={70} fill="#006400">Y I, Zr I</text>
      <text x={1309} y={1459} fontSize={70} fill="#ee82ee">La III</text>
      <text x={1568} y={1474} fontSize={70} fill="#ffa500">Ce III</text>

      {/* bold element labels */}
      <g fontFamily={BOLD} fontWeight={700}>
        <text x={868} y={818} fontSize={106} fill="#0000ff" textLength={119} lengthAdjust="spacingAndGlyphs">Ca</text>
        <text x={1179} y={846} fontSize={108} fill="#ff1a1a" textLength={100} lengthAdjust="spacingAndGlyphs">Sr</text>
        <text x={1371} y={838} fontSize={104} fill="#ff8cff" textLength={105} lengthAdjust="spacingAndGlyphs">La</text>
        <text x={1407} y={957} fontSize={104} fill="#650d02" textLength={139} lengthAdjust="spacingAndGlyphs">Gd</text>
        <text x={1611} y={876} fontSize={108} fill="#ff7f00" textLength={119} lengthAdjust="spacingAndGlyphs">Ce</text>
        <text x={671} y={1198} fontSize={106} fill="#008000" textLength={207} lengthAdjust="spacingAndGlyphs">Y, Zr</text>
        <text x={2418} y={1224} fontSize={102} fill="#0066c2" textLength={290} lengthAdjust="spacingAndGlyphs">Model</text>
        <text x={2225} y={601} fontSize={100} fill="#000" textLength={509} lengthAdjust="spacingAndGlyphs">GW170817</text>
      </g>
    </svg>
  );
}
